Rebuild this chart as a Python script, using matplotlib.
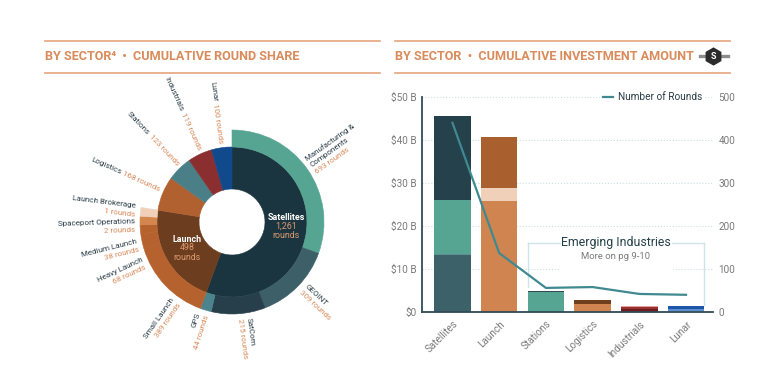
import numpy as np
import matplotlib
matplotlib.use("Agg")
import matplotlib.pyplot as plt
from matplotlib.lines import Line2D
from matplotlib.patches import Rectangle

plt.rcParams['font.family'] = ['Roboto', 'DejaVu Sans']

# ---- donut data (cumulative rounds) ----
sectors = ['Satellites', 'Launch', 'Logistics', 'Stations', 'Industrials', 'Lunar']
sector_rounds = [1261, 498, 168, 123, 119, 100]
sector_colors = ['#1b3540', '#6c3d1f', '#b0612f', '#4a7f88', '#8a2e2f', '#104a8c']

sat_subs = ['Manufacturing &\nComponents', 'GEOINT', 'SatCom', 'GPS']
sat_sub_rounds = [693, 309, 215, 44]
sat_sub_colors = ['#55a592', '#3d5f67', '#263f4a', '#4b848c']

launch_subs = ['Small Launch', 'Heavy Launch', 'Medium Launch', 'Spaceport Operations', 'Launch Brokerage']
launch_sub_rounds = [389, 68, 38, 2, 1]
launch_sub_colors = ['#b5622e', '#b5622e', '#b5622e', '#d4864f', '#f0d0b8']

# ---- bar data (cumulative investment, $B) ----
categories = ['Satellites', 'Launch', 'Stations', 'Logistics', 'Industrials', 'Lunar']
sat_amounts = [13.3, 0.3, 12.4, 19.6]
launch_amounts = [25.7, 3.1, 12.0]
stations_amounts = [4.6, 0.3]
logistics_amounts = [1.9, 0.9]
industrials_amounts = [0.7, 0.5, 0.2]
lunar_amounts = [0.3, 0.4, 0.7]
rounds_line = [440, 137, 56, 58, 42, 40]

bar_segments = [sat_amounts, launch_amounts, stations_amounts, logistics_amounts,
                industrials_amounts, lunar_amounts]
bar_colors = [['#3d6168', '#5f8f95', '#55a592', '#25414b'],
              ['#d0844f', '#f0d0b8', '#a95f2e'],
              ['#55a592', '#2f4a52'],
              ['#d0844f', '#6e3e1e'],
              ['#6e1d1d', '#9b3030', '#e2a0a0'],
              ['#a8c4e6', '#5a8fd0', '#1d56a8']]

DARK = '#2a3d47'
ORANGE = '#d98b5b'
GREY = '#7a7a7a'

W, H = 768, 391
fig = plt.figure(figsize=(W / 100, H / 100), dpi=100)


def fx(x, y):
    return (x / W, 1 - y / H)


# ---- headers ----
for x0, x1 in [(45, 380), (395, 730)]:
    for yy in (40.7, 72.7):
        fig.add_artist(Line2D([x0 / W, x1 / W], [1 - yy / H] * 2, color='#e3a47c', lw=1.2))
fig.text(*fx(45, 56.5), 'BY SECTOR\u2074  \u2022  CUMULATIVE ROUND SHARE', color=ORANGE,
         fontsize=9.1, fontweight='bold', va='center', ha='left')
fig.text(*fx(395, 56.5), 'BY SECTOR  \u2022  CUMULATIVE INVESTMENT AMOUNT', color=ORANGE,
         fontsize=9.1, fontweight='bold', va='center', ha='left')
# small logo
fig.add_artist(Line2D([700 / W, 728 / W], [1 - 56 / H] * 2, color='#8c8c8c', lw=2.4))
fig.add_artist(Line2D([713 / W], [1 - 56 / H], marker='h', markersize=12, color='#2b2b2b', lw=0))
fig.text(*fx(713, 56.5), 'S', color='white', fontsize=6.5, fontweight='bold', ha='center', va='center')

# ---- donut ----
ax1 = fig.add_axes([0, 0, 0.5, 1])
cx, cy = 232, H - 222
r_in, r_mid, r_out = 33, 75, 92

inner, _ = ax1.pie(sector_rounds, radius=r_mid, center=(cx, cy), startangle=90, counterclock=False,
                   colors=sector_colors, wedgeprops=dict(width=r_mid - r_in))

# outer ring: tiny launch segments get a minimum visible size
launch_shown = np.maximum(np.array(launch_sub_rounds, float), 0.08 * sector_rounds[1])
launch_shown = launch_shown * sector_rounds[1] / launch_shown.sum()
rest = sum(sector_rounds[2:])
outer_vals = list(sat_sub_rounds) + list(launch_shown) + [rest]
outer_cols = sat_sub_colors + launch_sub_colors + ['none']
outer, _ = ax1.pie(outer_vals, radius=r_out, center=(cx, cy), startangle=90, counterclock=False,
                   colors=outer_cols, wedgeprops=dict(width=r_out - r_mid))
for wdg in list(inner) + list(outer):
    wdg.set_edgecolor(wdg.get_facecolor())
    wdg.set_linewidth(0.4)
ax1.set_xlim(0, W / 2)
ax1.set_ylim(0, H)
ax1.set_aspect('equal')
ax1.axis('off')

# centre labels
for name, val, x, y in [('Satellites', sector_rounds[0], 286, 217), ('Launch', sector_rounds[1], 187, 239)]:
    ax1.text(x, H - y, name, color='white', fontsize=6.4, fontweight='bold', ha='center', va='center')
    ax1.text(x, H - y - 9, f'{val:,}', color='#dd9a6e', fontsize=6.4, ha='center', va='center')
    ax1.text(x, H - y - 18, 'rounds', color='#dd9a6e', fontsize=6.4, ha='center', va='center')

renderer = fig.canvas.get_renderer()
LBL = 5.8


def text_w(s):
    t = fig.text(0, 0, s, fontsize=LBL)
    w = t.get_window_extent(renderer).width
    t.remove()
    return w


def radial_label(name, rounds, ang, r, single=False):
    phi = np.deg2rad(90 - ang)
    u = np.array([np.cos(phi), np.sin(phi)])
    deg = (90 - ang + 180) % 360 - 180
    if u[0] >= 0:
        rot, ha = deg, 'left'
        down = np.array([np.sin(phi), -np.cos(phi)])
    else:
        rot, ha = (deg + 180 + 180) % 360 - 180, 'right'
        down = np.array([-np.sin(phi), np.cos(phi)])
    p = np.array([cx, cy]) + r * u
    kw = dict(fontsize=LBL, rotation=rot, rotation_mode='anchor', va='center', ha=ha)
    rtxt = f'{rounds} rounds'
    if single:
        ax1.text(*p, rtxt, color=ORANGE, **kw)
        q = p + (text_w(rtxt) + 2.5) * u
        ax1.text(*q, name, color=DARK, **kw)
        return
    lines = name.split('\n') + [rtxt]
    n = len(lines)
    for i, s in enumerate(lines):
        q = p + (i - (n - 1) / 2) * 8.5 * down
        ax1.text(*q, s, color=DARK if i < n - 1 else ORANGE, **kw)


outer_names = sat_subs + launch_subs
outer_rounds = sat_sub_rounds + launch_sub_rounds
outer_label_angles = [54.5, 133, 172.5, 197.6, 215, 245, 256, 268, 277]
for nm, rd, a in zip(outer_names, outer_rounds, outer_label_angles):
    radial_label(nm, rd, a, 97)

inner_label_angles = [294, 316.5, 335.6, 352]
for nm, rd, a in zip(sectors[2:], sector_rounds[2:], inner_label_angles):
    radial_label(nm, rd, a, 79, single=True)

# ---- bar chart ----
ax2 = fig.add_axes([422 / W, 1 - 312 / H, (713 - 422) / W, (312 - 97) / H])
x = np.arange(len(categories))
for i, (segs, cols) in enumerate(zip(bar_segments, bar_colors)):
    bottom = 0
    for v, c in zip(segs, cols):
        ax2.bar(x[i], v, bottom=bottom, width=0.78, color=c, zorder=2)
        bottom += v
ax2.set_xlim(-0.652, 5.577)
ax2.set_ylim(0, 50)
ax2.set_yticks([0, 10, 20, 30, 40, 50])
ax2.set_yticklabels(['$0', '$10 B', '$20 B', '$30 B', '$40 B', '$50 B'])
ax2.set_xticks(x)
ax2.set_xticklabels(categories, rotation=45, ha='right', rotation_mode='anchor')
ax2.tick_params(length=0, labelsize=7.2, labelcolor=GREY)
ax2.tick_params(axis='x', pad=5)
ax2.tick_params(axis='y', pad=4)
for s in ['top', 'right']:
    ax2.spines[s].set_visible(False)
for s in ['left', 'bottom']:
    ax2.spines[s].set_color('#2f4b56')
    ax2.spines[s].set_linewidth(1.3)
ax2.yaxis.grid(True, linestyle=':', color='#c9dfe2', lw=0.8)
ax2.set_axisbelow(True)

# emerging industries bracket
ax2.add_patch(Rectangle((2.3, 9.0), 2.41, 7.6, color='white', zorder=1.5))
bc = '#cde4e8'
ax2.plot([1.61, 2.3], [16.05, 16.05], color=bc, lw=1, zorder=1.6)
ax2.plot([4.71, 5.39], [16.05, 16.05], color=bc, lw=1, zorder=1.6)
ax2.plot([1.61, 1.61], [16.05, 5.8], color=bc, lw=1, zorder=1.6)
ax2.plot([5.39, 5.39], [16.05, 1.6], color=bc, lw=1, zorder=1.6)
ax2.text(3.5, 16.05, 'Emerging Industries', fontsize=8.8, color='#24404a', ha='center', va='center', zorder=1.7)
ax2.text(3.5, 12.8, 'More on pg 9-10', fontsize=6.8, color=GREY, ha='center', va='center', zorder=1.7)

tw = ax2.twinx()
tw.plot(x, rounds_line, color='#3f8a90', lw=1.6, label='Number of Rounds', zorder=5)
tw.set_ylim(0, 500)
tw.set_yticks([0, 100, 200, 300, 400, 500])
tw.tick_params(length=0, labelsize=7.2, labelcolor=GREY, pad=4)
for s in tw.spines.values():
    s.set_visible(False)
leg = tw.legend(loc='center right', bbox_to_anchor=(0.99, 1.0), frameon=True, fontsize=7.2,
                handlelength=1.0, handletextpad=0.5, borderpad=0.3, labelcolor=DARK)
leg.get_frame().set_facecolor('white')
leg.get_frame().set_edgecolor('none')
leg.get_frame().set_alpha(1)

fig.savefig('out.png', dpi=100)
